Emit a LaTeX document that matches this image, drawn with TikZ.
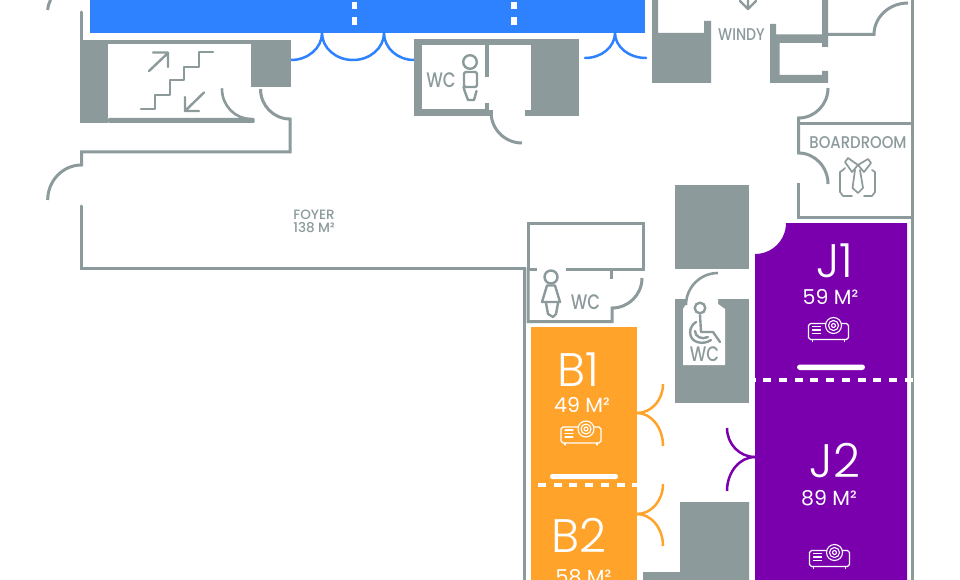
\documentclass[tikz,border=0pt]{standalone}
\usepackage{fontspec}
\usepackage{graphicx}
\usetikzlibrary{calc}
\setmainfont{Poppins}
\newfontfamily\lightf{Poppins Light}
\newfontfamily\mediumf{Poppins Medium}
\definecolor{wallgrey}{HTML}{8C9A9B}
\definecolor{hallblue}{HTML}{2E82FF}
\definecolor{roomorange}{HTML}{FFA32A}
\definecolor{roompurple}{HTML}{7A00AE}
\newcommand\Qarc[3]{.. controls ($(#1)!.5523!(#2)$) and ($(#3)!.5523!(#2)$) .. (#3)}
\newcommand\projector[2]{%
  \begin{scope}[shift={(#1,#2)},line width=1.1pt,line cap=round,draw=white]
    \draw (17,6) -- (2,6) -- (0,8) -- (0,20) -- (2,22) -- (38,22) -- (40,20) -- (40,8) -- (38,6) -- (33,6);
    \draw (25,8) circle[radius=8pt] (25,8) circle[radius=5pt] (25,8) circle[radius=2pt];
    \draw (4,9) -- (12,9) (4,12.5) -- (12,12.5) (4,16) -- (12,16);
    \draw (4,22) -- (4,24) (36,22) -- (36,24);
  \end{scope}}
\tikzset{
  wall/.style={draw=wallgrey,line width=3pt,line cap=round,line join=miter},
  thinicon/.style={draw=wallgrey,line width=2.4pt,line cap=round,line join=round},
  solid grey/.style={fill=wallgrey,draw=none},
  bluedoor/.style={draw=hallblue,line width=2.5pt,line cap=round},
  orangedoor/.style={draw=roomorange,line width=2.5pt,line cap=round},
  purpledoor/.style={draw=roompurple,line width=2.5pt,line cap=round},
  greytext/.style={text=wallgrey,inner sep=0pt,font=\mediumf\fontsize{17}{17}\selectfont},
  wctext/.style={text=wallgrey,inner sep=0pt,font=\mediumf\fontsize{21}{21}\selectfont},
  roomname/.style={text=white,inner sep=0pt,text height=33pt,text depth=0pt,font=\lightf\fontsize{47}{47}\selectfont},
  roomsize/.style={text=white,inner sep=0pt,font=\fontsize{20.5}{20.5}\selectfont},
}
\begin{document}
\begin{tikzpicture}[x=1pt,y=-1pt]
\useasboundingbox (0,0) rectangle (960,580);
\clip (0,0) rectangle (960,580);
\fill[white] (0,0) rectangle (960,580);

% blue hall
\fill[hallblue] (90,0) rectangle (645,33);
\foreach \x in {354.5,514}{
  \fill[white] (\x-2.8,2) rectangle (\x+2.8,9);
  \fill[white] (\x-2.8,17.5) rectangle (\x+2.8,25.5);
}
\draw[bluedoor] (291,60) \Qarc{291,60}{322,60}{322,33} \Qarc{322,33}{322,60}{353,60} \Qarc{353,60}{384,60}{384,33} \Qarc{384,33}{384,60}{414,60};
\draw[bluedoor] (585,58) \Qarc{585,58}{615,58}{615,33} \Qarc{615,33}{615,58}{646,58};

% stair block and foyer walls
\draw[wall,line cap=butt] (47.7,10) .. controls (48,6) and (49,3) .. (50.5,0);
\draw[wall] (81.5,12) -- (81.5,41);
\fill[solid grey] (80,40) rectangle (291,44.5);
\fill[solid grey] (80,40) rectangle (108,123);
\fill[solid grey] (251,40) rectangle (291,87);
\fill[solid grey,rounded corners=1pt] (108,118) rectangle (254.5,123);
\draw[wall,line width=2.6pt] (222,89) \Qarc{222,89}{222,119}{251,119};
\draw[wall,line cap=butt] (260.5,89) \Qarc{260.5,89}{260.5,119}{290,119} -- (290,152) -- (81.5,152) -- (81.5,165) \Qarc{81.5,165}{47.7,165}{47.7,200};
\draw[wall] (81.5,206) -- (81.5,268.5) -- (524.5,268.5) -- (524.5,582);
\draw[thinicon] (141,109) -- (155,109) -- (155,95) -- (170,95) -- (170,80) -- (184,80) -- (184,67) -- (199,67) -- (199,52) -- (213,52);
\draw[thinicon] (149,71) -- (168,53) (153,52.5) -- (168,52.5) -- (168,67);
\draw[thinicon] (204,92.5) -- (185,111) (185,97) -- (185,111) -- (199,111);

% central WC
\fill[solid grey] (414,39) rectangle (579,116.5);
\fill[white] (422,45) rectangle (485,109);
\fill[white] (489,45) rectangle (531,110);
\fill[white] (485,77) rectangle (489,103);
\fill[white] (493,110) rectangle (525,116.7);
\draw[wall,line cap=butt] (491,112) \Qarc{491,112}{491,143}{522,143};
\node[wctext] (wcmain) at (441,80.5) {\scalebox{.79}[1]{WC}};
\draw[thinicon] (470,62) circle[radius=6.8pt];
\draw[thinicon,rounded corners=1.5pt] (464,72) rectangle (477,87);
\draw[thinicon] (463.5,87) -- (465,92) -- (468,100) -- (474,100) -- (476.5,91);

% windy
\fill[solid grey] (652,0) -- (658,0) -- (658,33) -- (704,33) -- (704,21) -- (711,21) -- (711,83) -- (652,83) -- cycle;
\fill[solid grey] (770,24) -- (776,24) -- (776,34.5) -- (822,34.5) -- (822,0) -- (828,0) -- (828,47) -- (822,47) -- (822,43) -- (779.5,43) -- (779.5,75) -- (822,75) -- (822,71) -- (828,71) -- (828,83) -- (770,83) -- cycle;
\draw[thinicon] (748,0) -- (748,9) (740,1) -- (748,9) -- (756,1);
\node[greytext] (windy) at (741.5,35) {\scalebox{.83}[1]{WINDY}};
\draw[wall,line cap=butt] (828,34.5) -- (874,34.5) \Qarc{874,34.5}{874,3}{908,3};
\draw[wall,line cap=butt] (912.5,0) -- (912.5,580);

% boardroom
\draw[wall,line cap=butt] (828,88) \Qarc{828,88}{828,118}{798.5,118} -- (798.5,153) \Qarc{798.5,153}{828,153}{828,184};
\draw[wall,line cap=butt] (798.5,123.5) -- (912.5,123.5);
\draw[wall,line cap=butt] (798.5,183) -- (798.5,217) -- (912.5,217);
\node[greytext] (boardroom) at (858,143) {\scalebox{.875}[1]{BOARDROOM}};
\begin{scope}[thinicon,line width=1.7pt]
  \draw (845,168) -- (843,170) -- (840,172) -- (840,192) -- (843,196) -- (852,196);
  \draw (872,170) -- (875,172) -- (875,192) -- (872,196) -- (864,196);
  \draw (845,162) -- (848,158) -- (858,165) -- (852,172) -- cycle;
  \draw (858,165) -- (868,159) -- (871,163) -- (864,172) -- cycle;
  \draw (855,170) -- (852.5,188) -- (858,193) -- (863,188) -- (860,170);
\end{scope}

% ladies WC
\draw[wall,line cap=butt] (537,269) -- (528,269) -- (528,223) -- (643,223) -- (643,269) -- (566,269);
\draw[wall,line cap=butt] (528,267.5) -- (528,321.5) -- (612,321.5) -- (612,308) \Qarc{612,308}{642,308}{642,278};
\draw[wall,line cap=butt] (611.5,269) -- (611.5,279);
\draw[thinicon] (551,277) circle[radius=6.5pt];
\draw[thinicon] (547,285.5) -- (555,285.5) -- (560,302) -- (542,302) -- cycle;
\draw[thinicon] (546,303) -- (548,314) -- (553,317) -- (556,314) -- (558,303);
\node[wctext] (wcladies) at (585.5,302) {\scalebox{.79}[1]{WC}};

% grey blocks
\fill[solid grey] (675,184.5) rectangle (749,268.5);
\fill[solid grey] (675,299) rectangle (749,403);
\fill[white] (683,365) -- (683,309) -- (686,304) -- (686,299) -- (718,299) -- (718,304) -- (725,309) -- (725,365) -- cycle;
\draw[wall,line width=2.6pt,line cap=butt] (686,299) -- (686,305) \Qarc{686,305}{686,273}{718,273};
\fill[solid grey] (680,502) -- (749,502) -- (749,580) -- (643,580) -- (643,572) -- (680,572) -- cycle;

% accessible WC icon
\draw[thinicon] (700,308) circle[radius=5.3pt];
\draw[thinicon] (700,315) -- (701,332) -- (713,332) -- (720,342);
\draw[thinicon] (696,322) .. controls (688,327) and (688,339) .. (697,342) .. controls (703,344) and (708,342) .. (711,340);
\draw[thinicon] (695,331) .. controls (695,337) and (702,340) .. (708,337);
\node[wctext] (wcaccess) at (704.5,354.5) {\scalebox{.79}[1]{WC}};

% orange rooms
\fill[roomorange] (531,327) rectangle (637,582);
\foreach \i in {0,...,6}{
  \fill[white] ({538+15.7*\i},483) rectangle ({546+15.7*\i},487);
}
\fill[white,rounded corners=2.4pt] (550,474) rectangle (618,479);
\draw[orangedoor,line cap=butt] (637,413) \Qarc{637,413}{663,413}{663,384};
\draw[orangedoor,line cap=butt] (637,413) \Qarc{637,413}{663,413}{663,446};
\draw[orangedoor,line cap=butt] (637,514) \Qarc{637,514}{663,514}{663,484};
\draw[orangedoor,line cap=butt] (637,514) \Qarc{637,514}{663,514}{663,546};
\node[roomname] (b1) at (578,370) {B1};
\node[roomsize] (b1size) at (582,405) {49 M²};
\projector{561}{421}
\node[roomname] (b2) at (579,536) {B2};
\node[roomsize] (b2size) at (583.5,577.5) {58 M²};

% purple rooms
\fill[roompurple] (786,223) -- (907,223) -- (907,582) -- (755,582) -- (755,254) \Qarc{755,254}{786,254}{786,223} -- cycle;
\foreach \i in {0,...,9}{
  \fill[white] ({763+15.75*\i},377.5) rectangle ({771+15.75*\i},381.5);
}
\fill[white] (755,377.5) rectangle (756,381.5);
\fill[white] (905,377.5) rectangle (907,381.5);
\fill[white,rounded corners=2.8pt] (797,364.5) rectangle (865,370);
\draw[purpledoor,line cap=butt] (755,457) \Qarc{755,457}{727,457}{727,428};
\draw[purpledoor,line cap=butt] (755,457) \Qarc{755,457}{727,457}{727,491};
\node[roomname] (j1) at (835,260.5) {J1};
\node[roomsize] (j1size) at (830.5,297) {59 M²};
\projector{808.5}{317.5}
\node[roomname] (j2) at (835,461) {J2};
\node[roomsize] (j2size) at (829,498) {89 M²};
\projector{809.5}{544.5}

% foyer label
\node[text=wallgrey,inner sep=0pt,align=center,font=\mediumf\fontsize{13.5}{12.5}\selectfont] (foyer) at (314,221.5) {FOYER\\138 M²};
\end{tikzpicture}
\end{document}
